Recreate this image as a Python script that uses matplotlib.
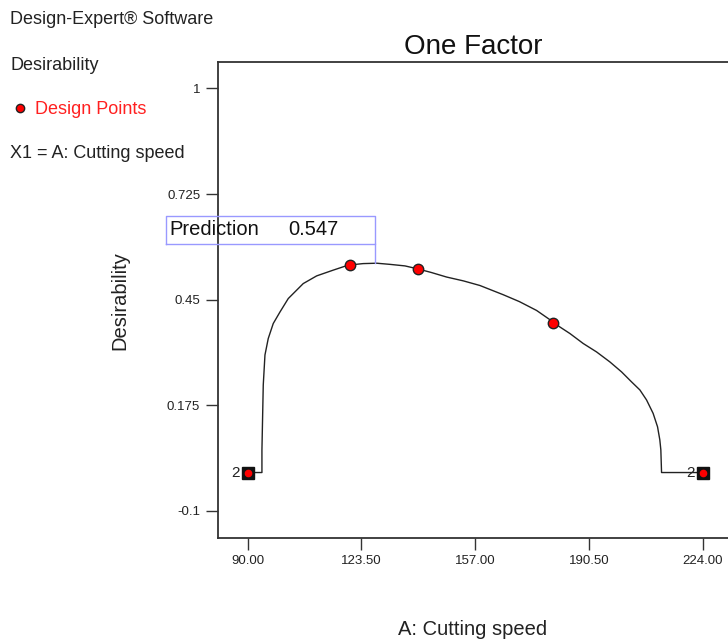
import numpy as np
import matplotlib
matplotlib.use("Agg")
import matplotlib.pyplot as plt

plt.rcParams["font.family"] = ["Liberation Sans", "DejaVu Sans"]

# ── data ──────────────────────────────────────────────────
curve_speed = [90.0, 94.2, 94.2, 94.44, 94.59, 95.09, 96.06, 97.53, 99.51, 101.95,
               106.36, 110.31, 115.19, 119.6, 124.0, 128.0, 131.9, 136.3, 139.74,
               144.0, 148.56, 153.5, 158.36, 165.22, 170.0, 175.05, 179.94, 181.91,
               184.85, 188.77, 192.71, 196.63, 200.07, 203.01, 205.46, 207.42,
               209.36, 210.66, 211.33, 211.63, 211.84, 224.0]
curve_desir = [0.0, 0.0, 0.0585, 0.163, 0.228, 0.306, 0.349, 0.388, 0.418, 0.453,
               0.492, 0.512, 0.527, 0.540, 0.544, 0.545, 0.542, 0.538, 0.531,
               0.521, 0.509, 0.499, 0.487, 0.463, 0.445, 0.422, 0.392, 0.379,
               0.362, 0.336, 0.314, 0.288, 0.262, 0.236, 0.215, 0.189,
               0.154, 0.119, 0.085, 0.059, 0.0, 0.0]

pts_speed = [120.0, 140.0, 180.0]
pts_desir = [0.540, 0.531, 0.390]

dbl_speed = [90.0, 224.0]   # double design points ("2")
dbl_desir = [0.0, 0.0]

pred_speed = 127.46
pred_value = 0.547

xticks = [90.0, 123.5, 157.0, 190.5, 224.0]
xtick_labels = ["90.00", "123.50", "157.00", "190.50", "224.00"]
yticks = [1.0, 0.725, 0.45, 0.175, -0.1]
ytick_labels = ["1", "0.725", "0.45", "0.175", "-0.1"]

# ── figure ────────────────────────────────────────────────
fig = plt.figure(figsize=(7.28, 6.41), dpi=100)
ax = fig.add_axes([0.299, 0.1612, 0.701, 0.7413])

ax.plot(curve_speed, curve_desir, color="#222222", lw=1.0, zorder=2)
ax.plot(pts_speed, pts_desir, "o", ms=7.5, mfc="red", mec="#222222", mew=1.0, zorder=4)
ax.plot(dbl_speed, dbl_desir, "s", ms=8, mfc="#111111", mec="#111111", zorder=4)
ax.plot(dbl_speed, dbl_desir, "o", ms=4.5, mfc="red", mec="red", zorder=5)
for xs, ys in zip(dbl_speed, dbl_desir):
    ax.annotate("2", (xs, ys), xytext=(-6, 0), textcoords="offset points",
                ha="right", va="center", fontsize=11, color="#222222")

ax.set_xlim(81.17, 231.4)
ax.set_ylim(-0.1696, 1.0676)

ax.set_xticks(xticks)
ax.set_xticklabels(xtick_labels)
ax.set_yticks(yticks)
ax.set_yticklabels(ytick_labels)
ax.tick_params(direction="out", length=8.6, width=1.0, color="#333333",
               labelsize=9.5, labelcolor="#222222", pad=4)

for s in ["top", "left", "bottom"]:
    ax.spines[s].set_color("#333333")
    ax.spines[s].set_linewidth(1.3)
ax.spines["right"].set_visible(False)

ax.set_title("One Factor", fontsize=20, pad=6, color="#111111")
ax.set_xlabel("A: Cutting speed", fontsize=14.5, labelpad=38, color="#222222")
ax.set_ylabel("Desirability", fontsize=14.5, labelpad=27, color="#222222")

# prediction flag
box_l, box_r = 65.87, pred_speed
box_b, box_t = 0.596, 0.668
ax.plot([box_l, box_r, box_r, box_l, box_l], [box_b, box_b, box_t, box_t, box_b],
        color="#9999ff", lw=1.0, clip_on=False, zorder=6)
ax.plot([box_r, box_r], [box_b, 0.545], color="#9999ff", lw=1.0, zorder=6)
ax.text(box_l + 1.2, (box_b + box_t) / 2, "Prediction", fontsize=14.5,
        va="center", ha="left", color="#111111", zorder=7)
ax.text(box_l + 36.0, (box_b + box_t) / 2, f"{pred_value:.3f}", fontsize=14.5,
        va="center", ha="left", color="#111111", zorder=7)

# left legend block
fig.text(10 / 728, 1 - 20 / 641, "Design-Expert® Software", fontsize=13,
         va="center", ha="left", color="#222222")
fig.text(10 / 728, 1 - 65 / 641, "Desirability", fontsize=13,
         va="center", ha="left", color="#222222")
fig.lines.append(plt.Line2D([20 / 728], [1 - 108 / 641], marker="o", ms=6,
                            mfc="red", mec="#222222", mew=1.0,
                            transform=fig.transFigure))
fig.text(35 / 728, 1 - 109 / 641, "Design Points", fontsize=13,
         va="center", ha="left", color="#ff2020")
fig.text(10 / 728, 1 - 154 / 641, "X1 = A: Cutting speed", fontsize=13,
         va="center", ha="left", color="#222222")

fig.savefig("out.png", dpi=100)
